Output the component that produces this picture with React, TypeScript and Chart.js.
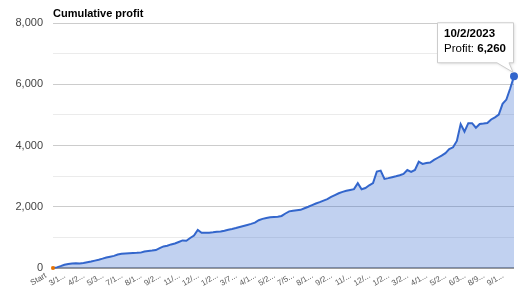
import React, { useEffect, useRef } from "react";
import { Chart, registerables } from "chart.js";

Chart.register(...registerables);

const chartTitle = "Cumulative profit";
const seriesName = "Profit";

// Every 5th trade carries a visible date label on the axis.
const tickDates = [
  "Start", "3/15/2021", "4/26/2021", "5/31/2021", "7/12/2021", "8/16/2021",
  "9/27/2021", "11/8/2021", "12/20/2021", "1/24/2022", "3/7/2022", "4/11/2022",
  "5/23/2022", "7/5/2022", "8/15/2022", "9/26/2022", "11/7/2022", "12/19/2022",
  "1/23/2023", "3/27/2023", "4/17/2023", "5/22/2023", "6/30/2023", "8/9/2023",
  "9/11/2023",
];
const lastDate = "10/2/2023";
const labelEvery = 5;

const profit = [
  0, 20, 60, 105, 130, 148, 152, 150, 162, 185,
  210, 240, 270, 305, 345, 370, 395, 440, 465, 476,
  484, 490, 494, 502, 540, 558, 570, 585, 650, 705,
  725, 770, 800, 850, 900, 890, 980, 1060, 1240, 1150,
  1150, 1155, 1165, 1180, 1190, 1215, 1250, 1275, 1305, 1340,
  1372, 1405, 1440, 1480, 1560, 1605, 1635, 1655, 1665, 1675,
  1700, 1780, 1850, 1870, 1885, 1900, 1950, 2000, 2055, 2105,
  2150, 2200, 2250, 2320, 2380, 2440, 2485, 2520, 2550, 2575,
  2770, 2570, 2610, 2700, 2770, 3150, 3180, 2910, 2935, 2965,
  2995, 3030, 3070, 3200, 3140, 3200, 3470, 3400, 3430, 3445,
  3530, 3600, 3670, 3750, 3880, 3940, 4150, 4700, 4455, 4730,
  4730, 4580, 4700, 4715, 4735, 4850, 4920, 5010, 5360, 5500,
  5860, 6260,
];

const startMarker = [0];

const yMin = 0;
const yMax = 8000;
const yStep = 1000;

const FONT = "'Liberation Sans', Arial, sans-serif";

export default function App() {
  const ref = useRef<HTMLCanvasElement | null>(null);

  useEffect(() => {
    document.body.style.margin = "0";
    const canvas = ref.current;
    if (!canvas) return;

    const labels = profit.map((_, i) =>
      i === profit.length - 1 ? lastDate : i % labelEvery === 0 ? tickDates[i / labelEvery] : ""
    );
    const shortLabel = (s: string) => (s.length > 5 ? s.slice(0, 3) + "..." : s);

    const overlay = {
      id: "overlay",
      afterDraw(chart: any) {
        const ctx = chart.ctx;
        const area = chart.chartArea;
        ctx.save();
        // title
        ctx.font = `bold 11px ${FONT}`;
        ctx.fillStyle = "#000";
        ctx.textAlign = "left";
        ctx.textBaseline = "alphabetic";
        ctx.fillText(chartTitle, area.left, 17);

        // rotated category labels, placed with the x scale
        const xs = chart.scales.x;
        ctx.font = `8px ${FONT}`;
        ctx.fillStyle = "#555";
        ctx.textAlign = "right";
        ctx.textBaseline = "alphabetic";
        for (let i = 0; i < labels.length - 1; i += labelEvery) {
          const x = xs.getPixelForValue(i);
          ctx.save();
          ctx.translate(x - 6, area.bottom + 9);
          ctx.rotate((-30 * Math.PI) / 180);
          ctx.fillText(shortLabel(labels[i]), 0, 0);
          ctx.restore();
        }

        // tooltip at last point
        const meta = chart.getDatasetMeta(0);
        const el = meta.data[meta.data.length - 1];
        const px = el.x;
        const py = el.y;
        const left = px - 77;
        const right = px - 1;
        const top = py - 54;
        const bottom = py - 14;
        ctx.shadowColor = "rgba(0,0,0,0.15)";
        ctx.shadowBlur = 3;
        ctx.shadowOffsetX = 1;
        ctx.shadowOffsetY = 1;
        ctx.beginPath();
        ctx.moveTo(left + 0.5, top + 0.5);
        ctx.lineTo(right + 0.5, top + 0.5);
        ctx.lineTo(right + 0.5, bottom + 0.5);
        ctx.lineTo(px - 5, bottom + 0.5);
        ctx.lineTo(px - 1, py - 4);
        ctx.lineTo(px - 17, bottom + 0.5);
        ctx.lineTo(left + 0.5, bottom + 0.5);
        ctx.closePath();
        ctx.fillStyle = "#fff";
        ctx.fill();
        ctx.shadowColor = "transparent";
        ctx.strokeStyle = "#cccccc";
        ctx.lineWidth = 1;
        ctx.stroke();

        ctx.textAlign = "left";
        ctx.fillStyle = "#000";
        ctx.font = `bold 11.5px ${FONT}`;
        ctx.fillText(labels[labels.length - 1], left + 7, py - 39);
        ctx.font = `11.5px ${FONT}`;
        const pre = `${seriesName}: `;
        ctx.fillText(pre, left + 7, py - 24);
        const w = ctx.measureText(pre).width;
        ctx.font = `bold 11.5px ${FONT}`;
        ctx.fillText(profit[profit.length - 1].toLocaleString("en-US"), left + 7 + w, py - 24);
        ctx.restore();
      },
    };

    const chart = new Chart(canvas, {
      type: "line",
      data: {
        labels,
        datasets: [
          {
            label: seriesName,
            data: profit,
            borderColor: "#3366cc",
            backgroundColor: "rgba(51,102,204,0.3)",
            borderWidth: 2,
            fill: "origin",
            tension: 0,
            pointRadius: (c: any) => (c.dataIndex === profit.length - 1 ? 4 : 0),
            pointBackgroundColor: "#3366cc",
            pointBorderColor: "#3366cc",
            pointBorderWidth: 0,
            clip: false as any,
            order: 2,
          },
          {
            label: "Start",
            data: startMarker,
            borderColor: "#e67300",
            backgroundColor: "#e67300",
            pointStyle: "rect",
            pointRadius: 1.8,
            showLine: false,
            clip: false as any,
            order: 1,
          },
        ],
      },
      options: {
        animation: false,
        responsive: false,
        layout: { padding: { top: 23, right: 12, left: 0, bottom: 0 } },
        plugins: {
          legend: { display: false },
          tooltip: { enabled: false },
          title: { display: false },
        },
        scales: {
          x: {
            grid: { display: false },
            border: { display: false },
            ticks: { display: false },
            afterFit: (s: any) => {
              s.height = 19;
            },
          },
          y: {
            min: yMin,
            max: yMax,
            border: { display: false },
            grid: {
              drawTicks: false,
              color: (c: any) =>
                c.tick.value === 0 ? "#9a9a9a" : c.tick.value % 2000 === 0 ? "#cccccc" : "#ebebeb",
              lineWidth: (c: any) => (c.tick.value === 0 ? 2 : 1),
            },
            ticks: {
              stepSize: yStep,
              padding: 10,
              color: "#444",
              font: { family: FONT, size: 11 },
              callback: (v: any) => (Number(v) % 2000 === 0 ? Number(v).toLocaleString("en-US") : ""),
            },
            afterFit: (s: any) => {
              s.width = 53;
            },
          },
        },
      },
      plugins: [overlay],
    });

    return () => chart.destroy();
  }, []);

  return (
    <div style={{ width: 526, height: 287, background: "#fff" }}>
      <canvas ref={ref} width={526} height={287} style={{ display: "block" }} />
    </div>
  );
}
